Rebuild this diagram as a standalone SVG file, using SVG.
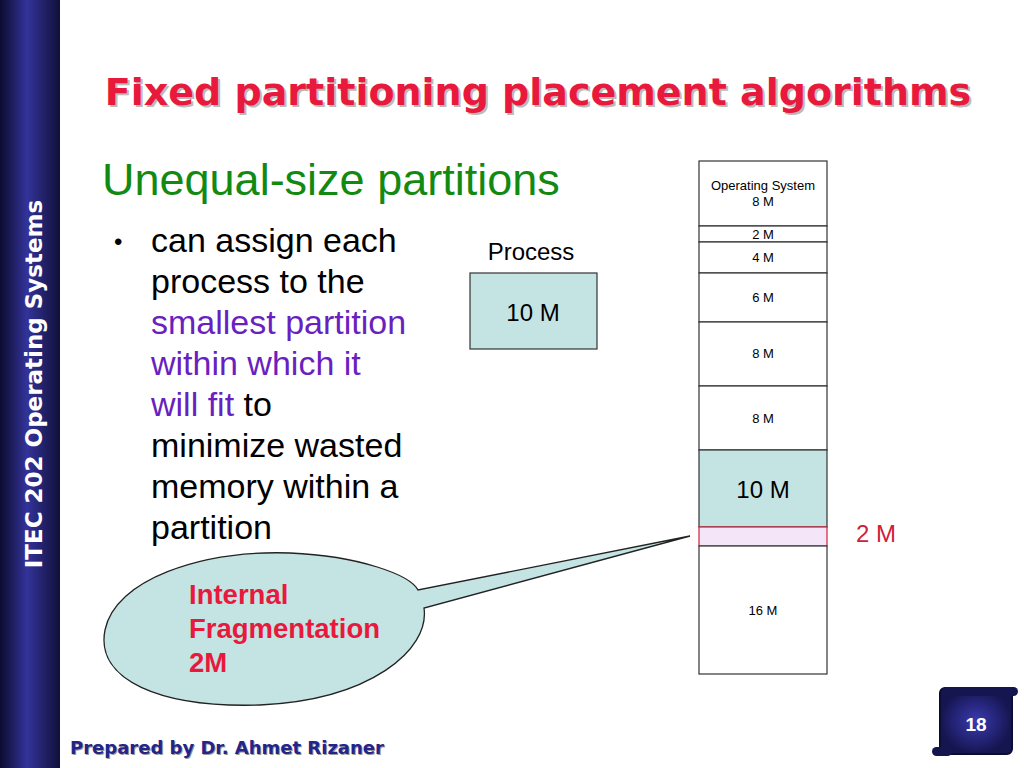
<svg xmlns="http://www.w3.org/2000/svg" width="1024" height="768" viewBox="0 0 1024 768">
<defs>
<linearGradient id="bar" x1="0" x2="1" y1="0" y2="0"><stop offset="0" stop-color="#0c0c30"/><stop offset="0.45" stop-color="#33339a"/><stop offset="1" stop-color="#10103a"/></linearGradient>
<radialGradient id="pg"><stop offset="0" stop-color="#3a3ab0"/><stop offset="1" stop-color="#151550"/></radialGradient>
<style>
.m{fill:#fff;stroke:#333;stroke-width:1.2}
.s{font-family:"Liberation Sans",Arial,sans-serif;font-size:13px;fill:#000;text-anchor:middle}
.L{font-size:24px}
.b{font-family:"Liberation Sans",Arial,sans-serif;font-size:34px;fill:#000}
.v{fill:#6a1fc0}
</style>
</defs>
<rect width="1024" height="768" fill="#fff"/>
<rect x="0" y="0" width="60" height="768" fill="url(#bar)"/>
<text transform="translate(42,384) rotate(-90)" text-anchor="middle" font-family="Verdana,'DejaVu Sans',sans-serif" font-weight="bold" font-size="23" fill="#fff">ITEC 202 Operating Systems</text>
<text x="540" y="107" text-anchor="middle" font-family="Verdana,'DejaVu Sans',sans-serif" font-weight="bold" font-size="38" fill="#bbb">Fixed partitioning placement algorithms</text>
<text x="538" y="105" text-anchor="middle" font-family="Verdana,'DejaVu Sans',sans-serif" font-weight="bold" font-size="38" fill="#e8193c">Fixed partitioning placement algorithms</text>
<text x="102" y="195" font-family="'Liberation Sans',Arial,sans-serif" font-size="45" fill="#128a12">Unequal-size partitions</text>
<text x="114" y="250" font-family="'Liberation Sans',Arial,sans-serif" font-size="24">•</text>
<g class="b">
<text x="151" y="252">can assign each</text>
<text x="151" y="293">process to the</text>
<text x="151" y="334" class="v">smallest partition</text>
<text x="151" y="375" class="v">within which it</text>
<text x="151" y="416"><tspan class="v">will fit</tspan> to</text>
<text x="151" y="457">minimize wasted</text>
<text x="151" y="498">memory within a</text>
<text x="151" y="539">partition</text>
</g>
<g id="process">
<text x="531" y="260" class="s L">Process</text>
<rect x="470" y="273" width="127" height="76" fill="#c4e4e4" stroke="#333" stroke-width="1.2"/>
<text x="533" y="321" class="s L">10 M</text>
</g>
<g id="memory">
<rect class="m" x="699" y="161" width="128" height="65"/>
<text x="763" y="190" class="s">Operating System</text><text x="763" y="206" class="s">8 M</text>
<rect class="m" x="699" y="226" width="128" height="16"/><text x="763" y="239" class="s">2 M</text>
<rect class="m" x="699" y="242" width="128" height="31"/><text x="763" y="262" class="s">4 M</text>
<rect class="m" x="699" y="273" width="128" height="49"/><text x="763" y="302" class="s">6 M</text>
<rect class="m" x="699" y="322" width="128" height="64"/><text x="763" y="358" class="s">8 M</text>
<rect class="m" x="699" y="386" width="128" height="64"/><text x="763" y="423" class="s">8 M</text>
<rect x="699" y="450" width="128" height="77" fill="#c4e4e4" stroke="#333" stroke-width="1.2"/><text x="763" y="498" class="s L">10 M</text>
<rect x="699" y="527" width="128" height="19" fill="#f4e6f8" stroke="#d0203a" stroke-width="1.2"/>
<rect class="m" x="699" y="546" width="128" height="128"/><text x="763" y="615" class="s">16 M</text>
<text x="876" y="542" class="s L" style="fill:#d0203a">2 M</text>
</g>
<g id="callout">
<path d="M690,536 L424,608 C430,650 370,700 260,705 C160,708 95,680 105,630 C115,580 200,550 290,553 C360,556 410,575 418,590 Z" fill="#c4e4e4" stroke="#222" stroke-width="1.3"/>
<g font-family="'Liberation Sans',Arial,sans-serif" font-weight="bold" font-size="27.5" fill="#e8193c">
<text x="189" y="604">Internal</text><text x="189" y="638">Fragmentation</text><text x="189" y="672">2M</text>
</g>
</g>
<g id="page">
<rect x="940" y="688" width="72" height="66" rx="5" fill="url(#pg)" stroke="#0c0c30" stroke-width="2"/>
<rect x="942" y="687" width="76" height="9" rx="4.5" fill="#151550"/>
<rect x="932" y="747" width="20" height="9" rx="4.5" fill="#151550"/>
<text x="976" y="731" class="s" style="font-size:19px;font-weight:bold;fill:#fff">18</text>
</g>
<text x="71" y="755" font-family="Verdana,'DejaVu Sans',sans-serif" font-weight="bold" font-size="18" fill="#9a9a9a">Prepared by Dr. Ahmet Rizaner</text>
<text x="70" y="754" font-family="Verdana,'DejaVu Sans',sans-serif" font-weight="bold" font-size="18" fill="#24248a">Prepared by Dr. Ahmet Rizaner</text>
</svg>
